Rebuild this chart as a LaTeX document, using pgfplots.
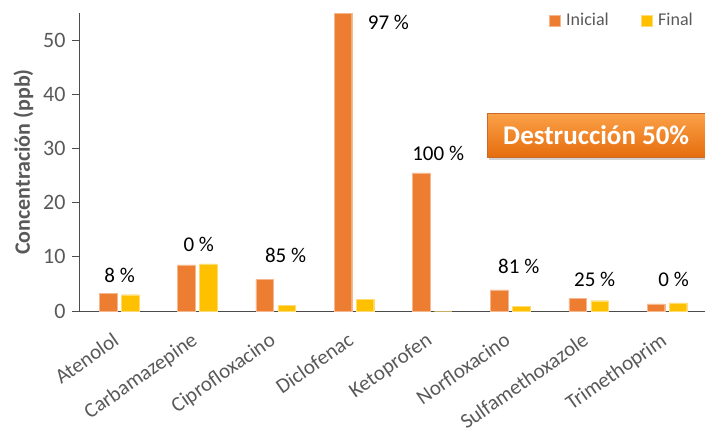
\documentclass[border=0pt]{standalone}
\usepackage{pgfplots}
\pgfplotsset{compat=1.18}
\usepackage{fontspec}
\setmainfont{Carlito}
\definecolor{ini}{HTML}{ED7D31}
\definecolor{fin}{HTML}{FFC000}
\definecolor{txt}{HTML}{595959}
\definecolor{boxtop}{HTML}{FBA148}
\definecolor{boxbot}{HTML}{E56D0D}
\usetikzlibrary{shadows}
\begin{document}
\begin{tikzpicture}
\useasboundingbox (-79pt,-123pt) rectangle (626pt,311pt);
\begin{axis}[
  at={(0,0)}, anchor=south west,
  scale only axis, width=626pt, height=298pt,
  ybar, bar width=17.7pt,
  xmin=-0.5, xmax=7.5, ymin=0, ymax=55,
  axis x line*=bottom, axis y line*=left,
  axis line style={-, draw=black!70, line width=0.9pt},
  xtick=data,
  xticklabels={Atenolol,Carbamazepine,Ciprofloxacino,Diclofenac,Ketoprofen,Norfloxacino,Sulfamethoxazole,Trimethoprim},
  x tick label style={xshift=-6pt, yshift=-12pt, rotate=35, anchor=north east, font=\fontsize{21}{23}\selectfont, text=txt, inner sep=1pt},
  xtick style={draw=none},
  ytick={0,10,20,30,40,50},
  y tick label style={font=\fontsize{22}{24}\selectfont, text=txt, xshift=-3pt},
  ytick style={draw=black!70, line width=0.9pt},
  tick align=outside, major tick length=7pt,
  /pgf/number format/assume math mode=true,
  ylabel={\bfseries Concentración (ppb)},
  ylabel style={font=\fontsize{22}{24}\selectfont, text=txt, yshift=3pt},
  legend style={at={(1,1)}, anchor=north east, xshift=-10pt, yshift=2pt, draw=none, fill=none, legend columns=2,
     font=\fontsize{18}{20}\selectfont, text=txt, inner sep=0pt,
     /tikz/every odd column/.append style={column sep=4pt},
     /tikz/every even column/.append style={column sep=30pt}},
  legend image code/.code={\fill[#1] (0pt,-5.5pt) rectangle (11pt,5.5pt);},
  legend cell align=left,
]
\addplot[fill=ini, draw=ini!55!white, line width=0.4pt, bar shift=-10pt] coordinates {(0,3.2) (1,8.5) (2,5.85) (3,55) (4,25.5) (5,3.9) (6,2.3) (7,1.3)};
\addplot[fill=fin, draw=fin!55!white, line width=0.4pt, bar shift=12pt] coordinates {(0,3.0) (1,8.7) (2,1.0) (3,2.1) (4,0) (5,0.8) (6,1.9) (7,1.5)};
\legend{Inicial, Final}
\begin{scope}[font=\fontsize{21}{23}\selectfont]
\node at (axis cs:0.02,6.6) {8 \%};
\node at (axis cs:1.03,12.2) {0 \%};
\node at (axis cs:2.14,10.3) {85 \%};
\node at (axis cs:3.455,53.3) {97 \%};
\node at (axis cs:4.09,29.0) {100 \%};
\node at (axis cs:5.12,8.2) {81 \%};
\node at (axis cs:6.09,5.85) {25 \%};
\node at (axis cs:7.10,5.85) {0 \%};
\end{scope}
\end{axis}
\node[anchor=north west, minimum width=218pt, minimum height=44pt, inner sep=0pt,
      top color=boxtop, bottom color=boxbot,
      draw=ini!85!black, line width=0.4pt,
      drop shadow={shadow xshift=2pt, shadow yshift=-2.5pt, opacity=0.35},
      text=white, font=\fontsize{27}{30}\selectfont\bfseries]
  at (408pt,198pt) {Destrucción 50\%};
\end{tikzpicture}
\end{document}
